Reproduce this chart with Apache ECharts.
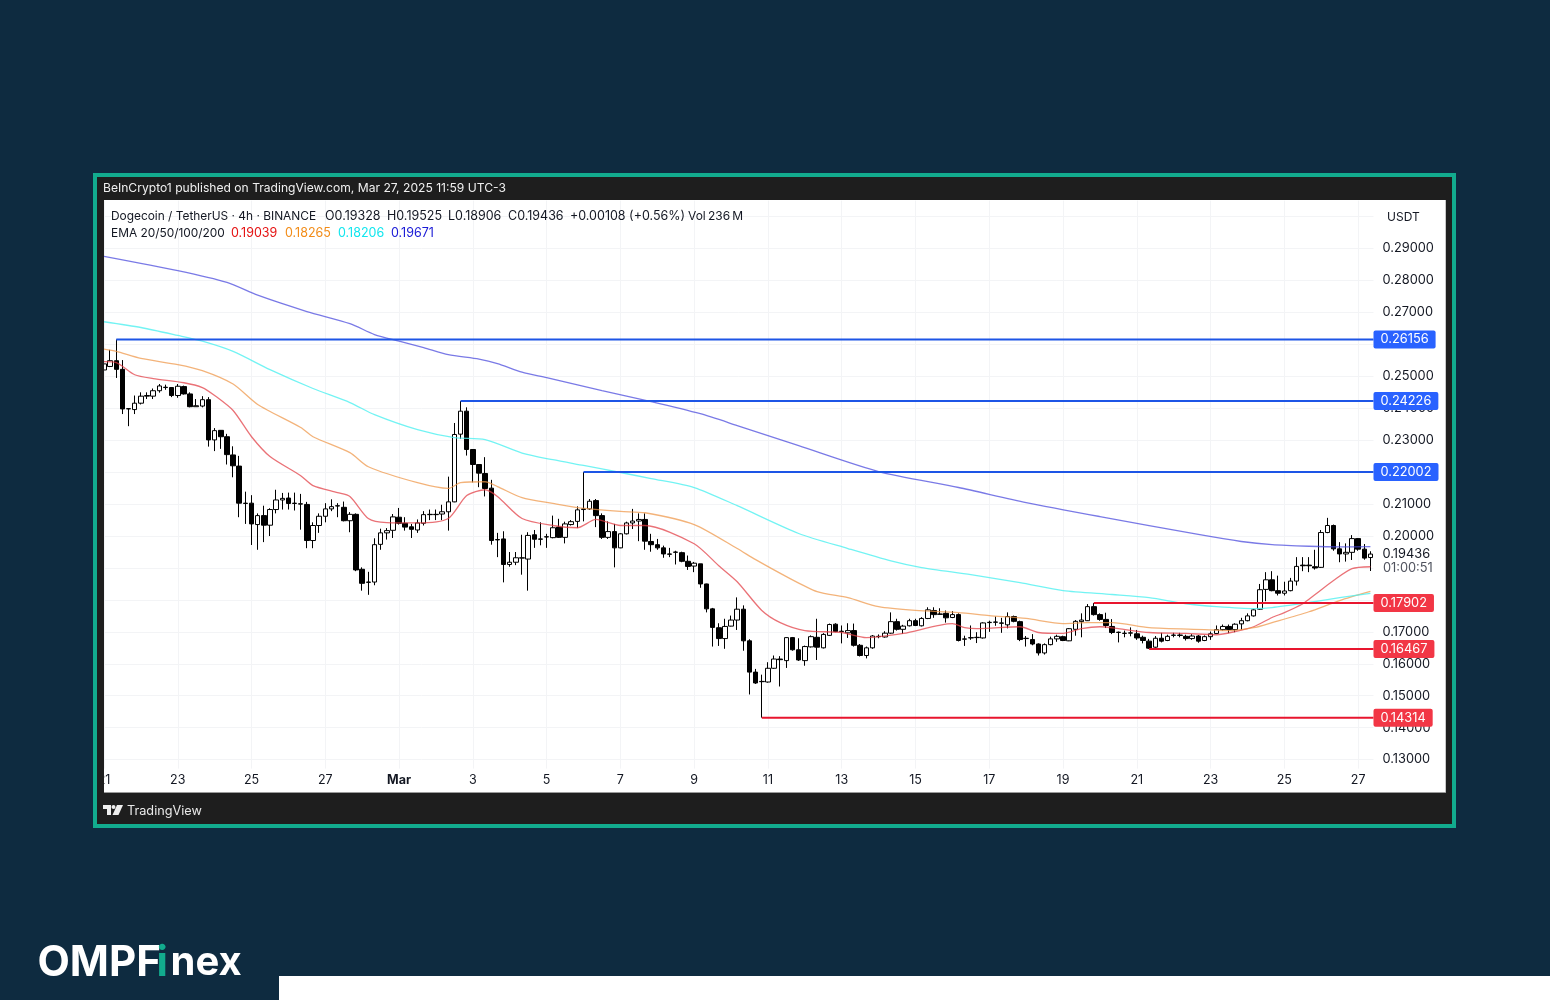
<!DOCTYPE html>
<html lang="en">
<head>
  <meta charset="UTF-8">
  <title>DOGE / USDT 4h</title>
  <style>
    html, body { margin: 0; padding: 0; background: #0e2b40; }
    #main { width: 1550px; height: 1000px; }
  </style>
</head>
<body>
<div id="main"></div>
<script src="https://cdn.jsdelivr.net/npm/echarts@6/dist/echarts.min.js"></script>
<script>
// one tick every 12 candles (2 days), first one is Feb 21
var timeTicks = ['21', '23', '25', '27', 'Mar', '3', '5', '7', '9', '11', '13', '15', '17', '19', '21', '23', '25', '27'];
var priceLabels = [0.13, 0.14, 0.15, 0.16, 0.17, 0.20, 0.21, 0.23, 0.24, 0.25, 0.27, 0.28, 0.29];
var priceGrid = [0.13, 0.14, 0.15, 0.16, 0.17, 0.18, 0.19, 0.20, 0.21, 0.22, 0.23, 0.24, 0.25, 0.26, 0.27, 0.28, 0.29, 0.30];

var candleOpen = [
  0.2520, 0.2531, 0.2549, 0.2522, 0.2398, 0.2396, 0.2416, 0.2438, 0.2438, 0.2455, 0.2466, 0.2465,
  0.2440, 0.2468, 0.2445, 0.2405, 0.2407, 0.2427, 0.2301, 0.2331, 0.2311, 0.2254, 0.2219, 0.2103,
  0.2103, 0.2036, 0.2064, 0.2034, 0.2083, 0.2113, 0.2119, 0.2103, 0.2101, 0.2099, 0.1986, 0.2033,
  0.2062, 0.2085, 0.2094, 0.2090, 0.2048, 0.2068, 0.1896, 0.1855, 0.1856, 0.1974, 0.2010, 0.2018,
  0.2059, 0.2040, 0.2029, 0.2019, 0.2040, 0.2067, 0.2067, 0.2069, 0.2076, 0.2107, 0.2319, 0.2391,
  0.2271, 0.2224, 0.2196, 0.2150, 0.1989, 0.1991, 0.1911, 0.1918, 0.1931, 0.1928, 0.2004, 0.1991,
  0.1997, 0.1995, 0.2028, 0.1996, 0.2036, 0.2046, 0.2083, 0.2085, 0.2111, 0.2064, 0.1996, 0.2014,
  0.1963, 0.2007, 0.2041, 0.2047, 0.2052, 0.1983, 0.1973, 0.1963, 0.1944, 0.1949, 0.1948, 0.1921,
  0.1906, 0.1913, 0.1850, 0.1772, 0.1713, 0.1679, 0.1718, 0.1737, 0.1771, 0.1672, 0.1574, 0.1544,
  0.1543, 0.1586, 0.1615, 0.1610, 0.1682, 0.1644, 0.1610, 0.1653, 0.1683, 0.1650, 0.1689, 0.1724,
  0.1702, 0.1697, 0.1704, 0.1658, 0.1626, 0.1650, 0.1685, 0.1684, 0.1696, 0.1732, 0.1708, 0.1719,
  0.1735, 0.1719, 0.1742, 0.1767, 0.1756, 0.1758, 0.1745, 0.1754, 0.1677, 0.1681, 0.1682, 0.1681,
  0.1729, 0.1730, 0.1728, 0.1722, 0.1748, 0.1732, 0.1679, 0.1676, 0.1662, 0.1634, 0.1660, 0.1678,
  0.1685, 0.1672, 0.1708, 0.1732, 0.1735, 0.1779, 0.1754, 0.1739, 0.1717, 0.1698, 0.1695, 0.1696,
  0.1694, 0.1683, 0.1671, 0.1652, 0.1680, 0.1673, 0.1689, 0.1690, 0.1686, 0.1679, 0.1687, 0.1673,
  0.1685, 0.1695, 0.1707, 0.1717, 0.1707, 0.1725, 0.1735, 0.1750, 0.1771, 0.1833, 0.1863, 0.1829,
  0.1821, 0.1829, 0.1859, 0.1909, 0.1909, 0.1904, 0.1902, 0.2011, 0.2033, 0.1960, 0.1944, 0.1949,
  0.1992, 0.1959, 0.19328
];
var candleClose = [
  0.2539, 0.2549, 0.2522, 0.2398, 0.2399, 0.2416, 0.2438, 0.2440, 0.2455, 0.2470, 0.2465, 0.2440,
  0.2469, 0.2445, 0.2405, 0.2408, 0.2427, 0.2301, 0.2330, 0.2311, 0.2255, 0.2220, 0.2103, 0.2102,
  0.2038, 0.2064, 0.2034, 0.2083, 0.2113, 0.2118, 0.2102, 0.2102, 0.2100, 0.1986, 0.2033, 0.2062,
  0.2085, 0.2092, 0.2095, 0.2048, 0.2068, 0.1894, 0.1852, 0.1856, 0.1973, 0.2010, 0.2017, 0.2060,
  0.2040, 0.2028, 0.2021, 0.2041, 0.2067, 0.2068, 0.2068, 0.2076, 0.2107, 0.2318, 0.2391, 0.2271,
  0.2224, 0.2197, 0.2149, 0.1986, 0.1988, 0.1911, 0.1918, 0.1932, 0.1932, 0.2002, 0.1990, 0.1990,
  0.1998, 0.2026, 0.1996, 0.2038, 0.2045, 0.2082, 0.2085, 0.2109, 0.2064, 0.1996, 0.2014, 0.1963,
  0.2007, 0.2041, 0.2047, 0.2052, 0.1984, 0.1973, 0.1963, 0.1944, 0.1943, 0.1950, 0.1921, 0.1905,
  0.1915, 0.1850, 0.1772, 0.1714, 0.1679, 0.1717, 0.1737, 0.1771, 0.1672, 0.1574, 0.1540, 0.1545,
  0.1586, 0.1615, 0.1613, 0.1682, 0.1644, 0.1612, 0.1654, 0.1685, 0.1652, 0.1692, 0.1723, 0.1701,
  0.1701, 0.1704, 0.1658, 0.1626, 0.1650, 0.1687, 0.1686, 0.1696, 0.1732, 0.1708, 0.1718, 0.1735,
  0.1720, 0.1742, 0.1769, 0.1754, 0.1755, 0.1744, 0.1754, 0.1673, 0.1678, 0.1682, 0.1683, 0.1728,
  0.1730, 0.1731, 0.1727, 0.1748, 0.1733, 0.1676, 0.1680, 0.1662, 0.1634, 0.1660, 0.1678, 0.1686,
  0.1673, 0.1710, 0.1733, 0.1737, 0.1779, 0.1754, 0.1739, 0.1720, 0.1698, 0.1699, 0.1696, 0.1697,
  0.1681, 0.1673, 0.1649, 0.1680, 0.1671, 0.1686, 0.1690, 0.1689, 0.1679, 0.1687, 0.1671, 0.1685,
  0.1694, 0.1707, 0.1717, 0.1707, 0.1724, 0.1735, 0.1750, 0.1769, 0.1832, 0.1863, 0.1829, 0.1821,
  0.1828, 0.1859, 0.1905, 0.1907, 0.1907, 0.1900, 0.2011, 0.2033, 0.1960, 0.1944, 0.1949, 0.1992,
  0.1959, 0.1931, 0.19436
];
var candleLow = [
  0.2516, 0.2529, 0.2495, 0.2382, 0.2344, 0.2382, 0.2412, 0.2429, 0.2429, 0.2449, 0.2458, 0.2435,
  0.2433, 0.2443, 0.2403, 0.2405, 0.2403, 0.2280, 0.2266, 0.2273, 0.2224, 0.2184, 0.2059, 0.2038,
  0.1972, 0.1957, 0.1981, 0.2000, 0.2071, 0.2083, 0.2083, 0.2080, 0.2020, 0.1962, 0.1962, 0.2010,
  0.2043, 0.2078, 0.2059, 0.2046, 0.2012, 0.1890, 0.1829, 0.1816, 0.1846, 0.1957, 0.1989, 0.1994,
  0.2036, 0.2017, 0.1994, 0.2010, 0.2033, 0.2050, 0.2050, 0.2050, 0.2017, 0.2106, 0.2304, 0.2252,
  0.2168, 0.2153, 0.2124, 0.1973, 0.1934, 0.1855, 0.1904, 0.1909, 0.1879, 0.1829, 0.1963, 0.1971,
  0.1963, 0.1993, 0.1994, 0.1977, 0.2033, 0.2025, 0.2046, 0.2082, 0.2028, 0.1991, 0.1991, 0.1902,
  0.1962, 0.2005, 0.2022, 0.1984, 0.1957, 0.1951, 0.1957, 0.1932, 0.1934, 0.1911, 0.1918, 0.1894,
  0.1887, 0.1838, 0.1761, 0.1654, 0.1656, 0.1647, 0.1717, 0.1706, 0.1641, 0.1504, 0.1537, 0.14314,
  0.1541, 0.1584, 0.1529, 0.1587, 0.1641, 0.1609, 0.1594, 0.1651, 0.1612, 0.1648, 0.1687, 0.1699,
  0.1664, 0.1681, 0.1654, 0.1623, 0.1617, 0.1647, 0.1680, 0.1682, 0.1694, 0.1704, 0.1694, 0.1717,
  0.1718, 0.1717, 0.1740, 0.1744, 0.1754, 0.1729, 0.1743, 0.1670, 0.1656, 0.1675, 0.1665, 0.1679,
  0.1700, 0.1719, 0.1697, 0.1711, 0.1730, 0.1671, 0.1654, 0.1658, 0.1626, 0.1629, 0.1658, 0.1669,
  0.1671, 0.1671, 0.1688, 0.1683, 0.1734, 0.1751, 0.1735, 0.1712, 0.1693, 0.1667, 0.1683, 0.1686,
  0.1675, 0.1664, 0.16467, 0.1650, 0.1667, 0.1671, 0.1683, 0.1683, 0.1673, 0.1675, 0.1666, 0.1671,
  0.1675, 0.1694, 0.1704, 0.1696, 0.1699, 0.1706, 0.1733, 0.1748, 0.1769, 0.1796, 0.1827, 0.1814,
  0.1814, 0.1827, 0.1845, 0.1890, 0.1887, 0.1895, 0.1900, 0.2009, 0.1954, 0.1918, 0.1920, 0.1925,
  0.1954, 0.1926, 0.18906
];
var candleHigh = [
  0.2544, 0.2583, 0.26156, 0.2551, 0.2400, 0.2440, 0.2450, 0.2450, 0.2462, 0.2476, 0.2474, 0.2466,
  0.2476, 0.2471, 0.2450, 0.2429, 0.2438, 0.2435, 0.2338, 0.2332, 0.2320, 0.2281, 0.2251, 0.2139,
  0.2128, 0.2071, 0.2095, 0.2087, 0.2145, 0.2135, 0.2136, 0.2136, 0.2132, 0.2107, 0.2043, 0.2071,
  0.2103, 0.2115, 0.2103, 0.2108, 0.2075, 0.2071, 0.1902, 0.1888, 0.1993, 0.2023, 0.2025, 0.2069,
  0.2088, 0.2059, 0.2038, 0.2052, 0.2078, 0.2083, 0.2083, 0.2098, 0.2186, 0.2354, 0.24226, 0.2403,
  0.2272, 0.2225, 0.2247, 0.2176, 0.2010, 0.2015, 0.1950, 0.1950, 0.2004, 0.2012, 0.2019, 0.2043,
  0.2007, 0.2064, 0.2054, 0.2045, 0.2050, 0.2093, 0.22002, 0.2116, 0.2116, 0.2071, 0.2046, 0.2038,
  0.2009, 0.2045, 0.2085, 0.2071, 0.2071, 0.2007, 0.1991, 0.1970, 0.1963, 0.1954, 0.1951, 0.1939,
  0.1919, 0.1913, 0.1851, 0.1775, 0.1727, 0.1741, 0.1751, 0.1808, 0.1783, 0.1677, 0.1584, 0.1566,
  0.1605, 0.1626, 0.1624, 0.1683, 0.1684, 0.1680, 0.1657, 0.1689, 0.1741, 0.1696, 0.1726, 0.1727,
  0.1720, 0.1727, 0.1726, 0.1662, 0.1654, 0.1690, 0.1692, 0.1702, 0.1761, 0.1741, 0.1722, 0.1741,
  0.1741, 0.1746, 0.1777, 0.1777, 0.1774, 0.1767, 0.1765, 0.1758, 0.1688, 0.1720, 0.1699, 0.1730,
  0.1735, 0.1748, 0.1744, 0.1761, 0.1751, 0.1735, 0.1687, 0.1693, 0.1664, 0.1664, 0.1685, 0.1691,
  0.1688, 0.1712, 0.1737, 0.1758, 0.1787, 0.17902, 0.1758, 0.1760, 0.1740, 0.1701, 0.1704, 0.1714,
  0.1706, 0.1688, 0.1678, 0.1687, 0.1697, 0.1691, 0.1697, 0.1697, 0.1691, 0.1693, 0.1690, 0.1689,
  0.1701, 0.1720, 0.1723, 0.1723, 0.1727, 0.1744, 0.1758, 0.1772, 0.1850, 0.1887, 0.1890, 0.1876,
  0.1857, 0.1869, 0.1934, 0.1934, 0.1934, 0.1957, 0.2019, 0.2057, 0.2036, 0.1981, 0.1977, 0.2003,
  0.1994, 0.1975, 0.19525
];

// EMAs at these candle numbers
var ema20At = [0, 2, 5, 8, 13, 16, 18, 21, 24, 27, 32, 34, 38, 40, 43, 46, 51, 56, 59, 62, 64, 68, 73, 77, 80, 84, 88, 96, 100, 103, 107, 110, 114, 120, 124, 130, 138, 140, 142, 149, 152, 156, 159, 162, 165, 170, 176, 181, 184, 187, 190, 192, 195, 197, 200, 203, 206];
var ema20 = [0.2546, 0.2543, 0.2505, 0.2493, 0.2480, 0.2465, 0.2440, 0.2393, 0.2311, 0.2249, 0.2189, 0.2158, 0.2136, 0.2124, 0.2055, 0.2042, 0.2041, 0.2055, 0.2127, 0.2145, 0.2124, 0.2055, 0.2033, 0.2026, 0.2052, 0.2033, 0.2033, 0.1976, 0.1907, 0.1857, 0.1767, 0.1729, 0.1704, 0.1698, 0.1682, 0.1695, 0.1726, 0.1713, 0.1710, 0.1716, 0.1698, 0.1695, 0.1710, 0.1716, 0.1710, 0.1698, 0.1695, 0.1691, 0.1701, 0.1716, 0.1745, 0.1760, 0.1788, 0.1817, 0.1861, 0.1898, 0.19039];
var ema50At = [0, 2, 6, 12, 16, 21, 25, 32, 34, 40, 43, 51, 56, 58, 62, 64, 68, 73, 77, 84, 88, 96, 103, 106, 111, 116, 121, 126, 132, 139, 144, 150, 156, 160, 164, 170, 179, 183, 187, 190, 196, 201, 206];
var ema50 = [0.2585, 0.2578, 0.2556, 0.2537, 0.2518, 0.2476, 0.2412, 0.2340, 0.2311, 0.2261, 0.2217, 0.2167, 0.2149, 0.2167, 0.2170, 0.2155, 0.2120, 0.2102, 0.2089, 0.2077, 0.2073, 0.2036, 0.1961, 0.1926, 0.1873, 0.1826, 0.1807, 0.1779, 0.1767, 0.1760, 0.1751, 0.1742, 0.1726, 0.1729, 0.1729, 0.1713, 0.1707, 0.1704, 0.1713, 0.1729, 0.1763, 0.1798, 0.18265];
var ema100At = [0, 6, 12, 16, 21, 27, 34, 40, 44, 51, 57, 62, 68, 73, 78, 84, 89, 96, 103, 113, 121, 128, 133, 141, 149, 156, 164, 170, 176, 181, 187, 190, 196, 201, 206];
var ema100 = [0.2671, 0.2653, 0.2628, 0.2610, 0.2578, 0.2521, 0.2462, 0.2418, 0.2380, 0.2333, 0.2308, 0.2302, 0.2260, 0.2239, 0.2221, 0.2199, 0.2180, 0.2152, 0.2095, 0.2008, 0.1961, 0.1922, 0.1901, 0.1879, 0.1854, 0.1829, 0.1817, 0.1807, 0.1788, 0.1779, 0.1773, 0.1776, 0.1792, 0.1807, 0.18206];
var ema200At = [0, 12, 20, 25, 33, 40, 44, 48, 52, 56, 61, 64, 68, 72, 81, 89, 97, 103, 113, 126, 139, 150, 162, 178, 185, 190, 196, 201, 206];
var ema200 = [0.2876, 0.2831, 0.2794, 0.2754, 0.2703, 0.2665, 0.2631, 0.2610, 0.2590, 0.2568, 0.2554, 0.2540, 0.2513, 0.2496, 0.2455, 0.2421, 0.2383, 0.2346, 0.2283, 0.2202, 0.2152, 0.2105, 0.2061, 0.2005, 0.1983, 0.1973, 0.1968, 0.1966, 0.19671];

var resistancePrice = [0.26156, 0.24226, 0.22002];
var resistanceFrom = [2, 58, 78];
var supportPrice = [0.17902, 0.16467, 0.14314];
var supportFrom = [161, 170, 107];
var lastPrice = 0.19436;

var FONT = 'Inter';
var chartEnd = 206.5; // right edge of the plot, half a candle past the last one

var candleRows = candleOpen.map(function (o, i) {
  return [i, o, candleClose[i], candleLow[i], candleHigh[i]];
});

function emaSeries(name, at, values, color) {
  return {
    name: name,
    type: 'line',
    data: at.map(function (k, i) { return [k, values[i]]; }),
    showSymbol: false,
    smooth: 0.25,
    silent: true,
    z: 3,
    lineStyle: { color: color, width: 1.3 }
  };
}

function levelSeries(price, from, lineColor, tagColor) {
  return {
    type: 'line',
    data: [[from, price], [chartEnd, price]],
    showSymbol: false,
    silent: true,
    z: 5,
    lineStyle: { color: lineColor, width: 2 },
    endLabel: {
      show: true,
      distance: 0,
      formatter: function () { return price.toFixed(5); },
      backgroundColor: tagColor,
      borderRadius: 2,
      padding: [3, 7, 2, 7],
      color: '#fff',
      fontFamily: FONT,
      fontSize: 12.8
    }
  };
}

function text(x, y, str, color, size) {
  return {
    type: 'text',
    z: 100,
    style: {
      x: x, y: y, text: str, fill: color, font: (size || 12.5) + 'px ' + FONT,
      textVerticalAlign: 'middle'
    }
  };
}

function box(x, y, w, h, fill, z) {
  return { type: 'rect', z: z, shape: { x: x, y: y, width: w, height: h }, style: { fill: fill } };
}

var INK = '#131722';
var graphics = [
  // page furniture, under the chart
  box(93, 173, 1363, 655, '#12ab8e', -10),
  box(97, 177, 1355, 647, '#1e1e1e', -9),
  box(104, 200, 1342, 592, '#ffffff', -8),
  box(104, 792, 1342, 1, '#9a9a9a', -7),
  box(1445, 200, 1, 592, '#c8c8c8', -7),
  box(279, 976, 1271, 24, '#ffffff', -10),
  // dark strip that clips the first label and candle at the frame
  box(97, 200, 7, 592, '#1e1e1e', 100),

  text(103, 188.5, 'BeInCrypto1 published on TradingView.com, Mar 27, 2025 11:59 UTC-3', '#f0f0f0', 12.1),
  text(111, 216, 'Dogecoin / TetherUS · 4h · BINANCE', INK, 11.9),
  text(325, 216, 'O0.19328', INK),
  text(387, 216, 'H0.19525', INK),
  text(448, 216, 'L0.18906', INK),
  text(508, 216, 'C0.19436', INK),
  text(570, 216, '+0.00108 (+0.56%)', INK),
  text(688, 216, 'Vol', INK, 12),
  text(708, 216, '236\u2009M', INK, 12),
  text(111, 233, 'EMA 20/50/100/200', INK, 11.9),
  text(231, 233, '0.19039', '#e51313'),
  text(285, 233, '0.18265', '#f28c18'),
  text(338, 233, '0.18206', '#12e6ee'),
  text(391, 233, '0.19671', '#1a1ad6'),
  text(1387, 217, 'USDT', INK, 12),
  text(1383, 568.5, '01:00:51', '#50535e', 12.8),

  // TradingView mark
  { type: 'polygon', z: 100, shape: { points: [[103, 805], [111, 805], [111, 815], [107, 815], [107, 809], [103, 809]] }, style: { fill: '#eeeeee' } },
  { type: 'circle', z: 100, shape: { cx: 113.5, cy: 807, r: 2 }, style: { fill: '#eeeeee' } },
  { type: 'polygon', z: 100, shape: { points: [[117, 805], [123, 805], [118.5, 815], [112.5, 815]] }, style: { fill: '#eeeeee' } },
  text(127, 811.5, 'TradingView', '#e8e8e8', 12.7),

  // OMPFinex logo
  {
    type: 'text', z: 100,
    style: { x: 37.5, y: 963, text: 'OMPF', fill: '#ffffff', font: '700 42px ' + FONT, textVerticalAlign: 'middle' }
  },
  {
    type: 'text', z: 100,
    style: { x: 156.5, y: 963, text: 'i', fill: '#12ab8e', font: '700 42px ' + FONT, textVerticalAlign: 'middle' }
  },
  {
    type: 'text', z: 100,
    style: { x: 170.5, y: 963, text: 'nex', fill: '#ffffff', font: '700 40px ' + FONT, textVerticalAlign: 'middle' }
  }
];

var series = [
  {
    name: 'DOGEUSDT',
    type: 'candlestick',
    data: candleRows,
    encode: { x: 0, y: [1, 2, 3, 4] },
    barWidth: 5,
    z: 2,
    silent: true,
    itemStyle: {
      color: '#ffffff',
      color0: '#000000',
      borderColor: '#000000',
      borderColor0: '#000000',
      borderWidth: 1
    }
  },
  emaSeries('EMA 20', ema20At, ema20, 'rgba(226,60,66,0.72)'),
  emaSeries('EMA 50', ema50At, ema50, 'rgba(238,150,70,0.72)'),
  emaSeries('EMA 100', ema100At, ema100, 'rgba(80,240,240,0.8)'),
  emaSeries('EMA 200', ema200At, ema200, 'rgba(70,70,220,0.72)')
];
resistancePrice.forEach(function (p, i) {
  series.push(levelSeries(p, resistanceFrom[i], '#1d55e6', '#2962ff'));
});
supportPrice.forEach(function (p, i) {
  series.push(levelSeries(p, supportFrom[i], '#e8152e', '#f23645'));
});
series.push({
  type: 'line',
  data: [[chartEnd, lastPrice]],
  showSymbol: false,
  silent: true,
  lineStyle: { width: 0 },
  endLabel: {
    show: true,
    distance: 9,
    formatter: function () { return lastPrice.toFixed(5); },
    color: INK,
    fontFamily: FONT,
    fontSize: 12.8
  }
});

var myChart = echarts.init(document.getElementById('main'));
myChart.setOption({
  animation: false,
  backgroundColor: '#0e2b40',
  graphic: { elements: graphics },
  grid: { left: 104, top: 200.6, width: 1269.5, height: 568, containLabel: false },
  xAxis: {
    type: 'value',
    min: 0,
    max: chartEnd,
    interval: 12,
    axisLine: { show: false },
    axisTick: { show: false },
    splitLine: { show: true, showMaxLine: false, lineStyle: { color: '#f3f4f6', width: 1 } },
    axisLabel: {
      margin: 5,
      color: INK,
      fontFamily: FONT,
      fontSize: 12.5,
      showMinLabel: true,
      formatter: function (v) {
        if (v % 12 !== 0) return '';
        var t = timeTicks[v / 12];
        return t === 'Mar' ? '{month|Mar}' : t;
      },
      rich: { month: { fontWeight: 700, fontFamily: FONT, fontSize: 12.5, color: INK } }
    }
  },
  yAxis: {
    type: 'value',
    position: 'right',
    min: 0.12719,
    max: 0.30503,
    axisLine: { show: false },
    axisTick: { show: false, length: 0, customValues: priceGrid },
    splitLine: { show: true, lineStyle: { color: '#f3f4f6', width: 1 } },
    axisLabel: {
      customValues: priceLabels,
      margin: 9,
      color: INK,
      fontFamily: FONT,
      fontSize: 12.8,
      formatter: function (v) { return v.toFixed(5); }
    }
  },
  series: series
});
</script>
</body>
</html>
